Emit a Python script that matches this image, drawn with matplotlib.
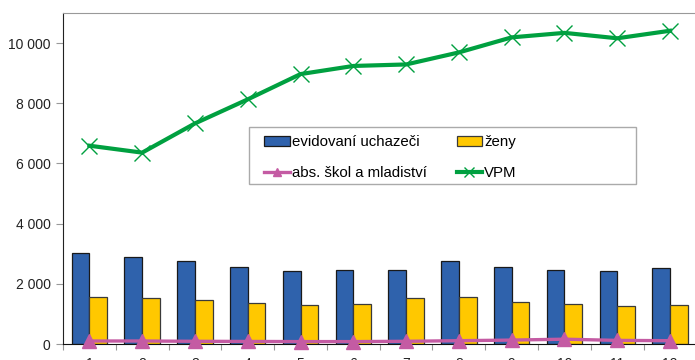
import numpy as np
import matplotlib
matplotlib.use("Agg")
import matplotlib.pyplot as plt
from matplotlib.patches import Rectangle
from matplotlib.ticker import FuncFormatter, FixedLocator

plt.rcParams['font.family'] = ['Liberation Sans', 'DejaVu Sans']

mesice = ['1', '2', '3', '4', '5', '6', '7', '8', '9', '10', '11', '12']
uchazeci = [3030, 2900, 2760, 2560, 2420, 2460, 2460, 2750, 2560, 2460, 2420, 2530]
zeny = [1570, 1520, 1460, 1370, 1300, 1340, 1520, 1560, 1400, 1320, 1275, 1305]
absolventi = [100, 100, 90, 85, 80, 80, 90, 110, 130, 160, 120, 110]
vpm = [6590, 6360, 7330, 8130, 8970, 9240, 9290, 9690, 10190, 10340, 10160, 10410]

x = np.arange(1, len(mesice) + 1)
w = 0.335

fig = plt.figure(figsize=(6.95, 3.6), dpi=100)
ax = fig.add_axes([63 / 695, 16 / 360, 633.4 / 695, 331 / 360])

b1 = ax.bar(x - w / 2, uchazeci, w, color='#2F62AC', edgecolor='#1a1a1a', linewidth=0.9,
            label='evidovaní uchazeči', zorder=2)
b2 = ax.bar(x + w / 2, zeny, w, color='#FFC800', edgecolor='#3a3a3a', linewidth=0.9,
            label='ženy', zorder=2)
l1, = ax.plot(x, absolventi, color='#C45BA3', lw=2.4, marker='^', markersize=10,
              label='abs. škol a mladiství', zorder=3, clip_on=False)
l2, = ax.plot(x, vpm, color='#00A040', lw=3.0, marker='x', markersize=11.5,
              markeredgewidth=1.0, label='VPM', zorder=4, clip_on=False)

ax.set_xlim(0.5, 12.5)
ax.set_ylim(0, 11000)
ax.set_yticks(np.arange(0, 10001, 2000))
ax.yaxis.set_major_formatter(FuncFormatter(lambda v, p: f'{int(v):,}'.replace(',', ' ')))
ax.tick_params(axis='y', length=5, color='#999999', labelsize=10, labelcolor='#222222', pad=4)

ax.xaxis.set_major_locator(FixedLocator(np.arange(0.5, 13, 1)))
ax.xaxis.set_minor_locator(FixedLocator(x))
ax.xaxis.set_major_formatter(plt.NullFormatter())
ax.set_xticklabels(mesice, minor=True)
ax.tick_params(axis='x', which='major', length=4, color='#999999')
ax.tick_params(axis='x', which='minor', length=0, pad=9, labelsize=10, labelcolor='#222222')

ax.spines['right'].set_visible(False)
ax.spines['top'].set_color('#999999')
ax.spines['left'].set_color('#222222')
ax.spines['bottom'].set_color('#111111')

# rámeček legendy (širší než samotné položky)
fig.patches.append(Rectangle((249 / 695, 1 - 184 / 360), 387 / 695, 57 / 360,
                             transform=fig.transFigure, facecolor='white',
                             edgecolor='#aaaaaa', linewidth=1.0, zorder=5))

leg = fig.legend(handles=[b1, l1, b2, l2], ncol=2, loc='upper left',
                 bbox_to_anchor=(264 / 695, 1 - 135 / 360),
                 fontsize=10.8, frameon=False, markerscale=0.6,
                 handlelength=1.7, handletextpad=0.15, columnspacing=2.0,
                 borderpad=0, labelspacing=1.12, borderaxespad=0)
leg.set_zorder(6)

fig.savefig('out.png', dpi=100)
